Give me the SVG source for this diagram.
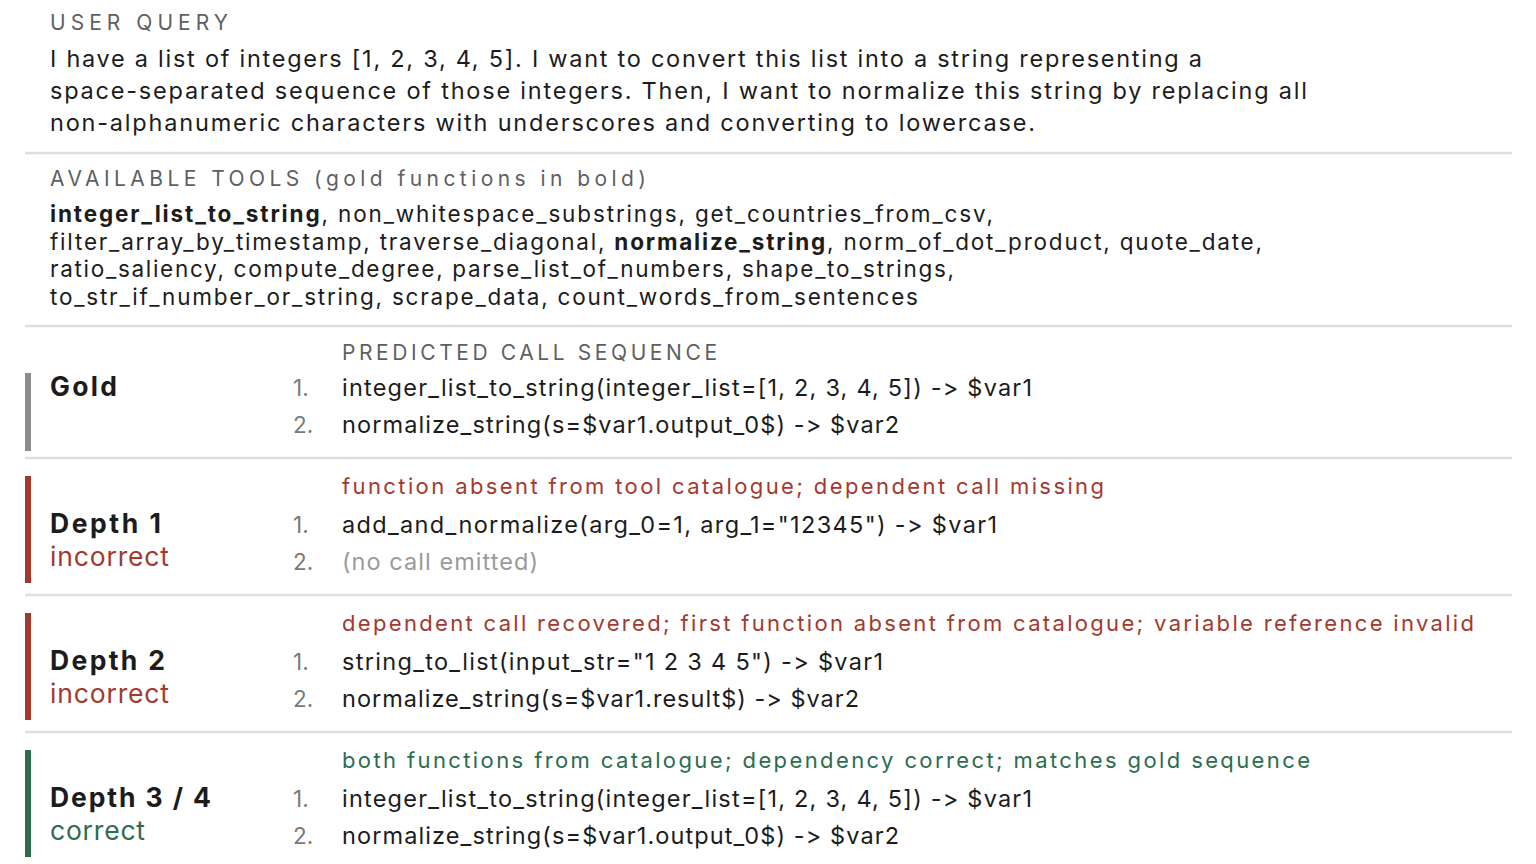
<svg xmlns="http://www.w3.org/2000/svg" width="1536" height="864" viewBox="0 0 1536 864">
<style>
text{font-family:Inter,"Liberation Sans",Arial,sans-serif;fill:#1c1c1c;font-variant-ligatures:none;font-feature-settings:"calt" 0,"liga" 0}
.lbl{font-size:21px;fill:#5f5f5f}
.q{font-size:23.5px}
.t{font-size:22.5px}
.b{font-weight:700}
.c{font-size:23.5px}
.n{font-size:22.5px;fill:#7a7a7a}
.name{font-size:26.5px;font-weight:700}
.st{font-size:26.5px}
.red{fill:#a3392e}
.grn{fill:#2d6c4d}
.ann{font-size:22px}
.muted{fill:#9a9a9a}
.div{stroke:#dedede;stroke-width:2.5}
</style>
<rect width="1536" height="864" fill="#ffffff"/>
<g id="query">
<text class="lbl" x="50" y="30" textLength="178" lengthAdjust="spacing">USER QUERY</text>
<text class="q" x="50" y="67" textLength="1152" lengthAdjust="spacing">I have a list of integers [1, 2, 3, 4, 5]. I want to convert this list into a string representing a</text>
<text class="q" x="50" y="99" textLength="1257" lengthAdjust="spacing">space-separated sequence of those integers. Then, I want to normalize this string by replacing all</text>
<text class="q" x="50" y="131" textLength="985" lengthAdjust="spacing">non-alphanumeric characters with underscores and converting to lowercase.</text>
</g>
<g id="dividers">
<line class="div" x1="25" y1="153" x2="1512" y2="153"/>
<line class="div" x1="25" y1="326" x2="1512" y2="326"/>
<line class="div" x1="25" y1="458" x2="1512" y2="458"/>
<line class="div" x1="25" y1="595" x2="1512" y2="595"/>
<line class="div" x1="25" y1="732" x2="1512" y2="732"/>
</g>
<g id="tools">
<text class="lbl" x="50" y="186" textLength="596" lengthAdjust="spacing">AVAILABLE TOOLS (gold functions in bold)</text>
<text class="t" x="50" y="222" textLength="943" lengthAdjust="spacing"><tspan class="b">integer_list_to_string</tspan>, non_whitespace_substrings, get_countries_from_csv,</text>
<text class="t" x="50" y="250" textLength="1212" lengthAdjust="spacing">filter_array_by_timestamp, traverse_diagonal, <tspan class="b">normalize_string</tspan>, norm_of_dot_product, quote_date,</text>
<text class="t" x="50" y="277" textLength="904" lengthAdjust="spacing">ratio_saliency, compute_degree, parse_list_of_numbers, shape_to_strings,</text>
<text class="t" x="50" y="305" textLength="868" lengthAdjust="spacing">to_str_if_number_or_string, scrape_data, count_words_from_sentences</text>
</g>
<g id="gold">
<rect x="25" y="373" width="6" height="78" fill="#8c8c8c"/>
<text class="lbl" x="342" y="360" textLength="375" lengthAdjust="spacing">PREDICTED CALL SEQUENCE</text>
<text class="name" x="50" y="396" textLength="67" lengthAdjust="spacing">Gold</text>
<text class="n" x="293" y="396">1.</text>
<text class="c" x="342" y="396" textLength="690" lengthAdjust="spacing">integer_list_to_string(integer_list=[1, 2, 3, 4, 5]) -&gt; $var1</text>
<text class="n" x="293" y="433">2.</text>
<text class="c" x="342" y="433" textLength="557" lengthAdjust="spacing">normalize_string(s=$var1.output_0$) -&gt; $var2</text>
</g>
<g id="depth1">
<rect x="25" y="476" width="6" height="107" fill="#a3392e"/>
<text class="ann red" x="342" y="494" textLength="762" lengthAdjust="spacing">function absent from tool catalogue; dependent call missing</text>
<text class="name" x="50" y="533" textLength="111" lengthAdjust="spacing">Depth 1</text>
<text class="st red" x="50" y="566" textLength="119" lengthAdjust="spacing">incorrect</text>
<text class="n" x="293" y="533">1.</text>
<text class="c" x="342" y="533" textLength="655" lengthAdjust="spacing">add_and_normalize(arg_0=1, arg_1="12345") -&gt; $var1</text>
<text class="n" x="293" y="570">2.</text>
<text class="c muted" x="342" y="570" textLength="196" lengthAdjust="spacing">(no call emitted)</text>
</g>
<g id="depth2">
<rect x="25" y="613" width="6" height="107" fill="#a3392e"/>
<text class="ann red" x="342" y="631" textLength="1132" lengthAdjust="spacing">dependent call recovered; first function absent from catalogue; variable reference invalid</text>
<text class="name" x="50" y="670" textLength="115" lengthAdjust="spacing">Depth 2</text>
<text class="st red" x="50" y="703" textLength="119" lengthAdjust="spacing">incorrect</text>
<text class="n" x="293" y="670">1.</text>
<text class="c" x="342" y="670" textLength="541" lengthAdjust="spacing">string_to_list(input_str="1 2 3 4 5") -&gt; $var1</text>
<text class="n" x="293" y="707">2.</text>
<text class="c" x="342" y="707" textLength="517" lengthAdjust="spacing">normalize_string(s=$var1.result$) -&gt; $var2</text>
</g>
<g id="depth34">
<rect x="25" y="750" width="6" height="107" fill="#2d6c4d"/>
<text class="ann grn" x="342" y="768" textLength="968" lengthAdjust="spacing">both functions from catalogue; dependency correct; matches gold sequence</text>
<text class="name" x="50" y="807" textLength="161" lengthAdjust="spacing">Depth 3 / 4</text>
<text class="st grn" x="50" y="840" textLength="95" lengthAdjust="spacing">correct</text>
<text class="n" x="293" y="807">1.</text>
<text class="c" x="342" y="807" textLength="690" lengthAdjust="spacing">integer_list_to_string(integer_list=[1, 2, 3, 4, 5]) -&gt; $var1</text>
<text class="n" x="293" y="844">2.</text>
<text class="c" x="342" y="844" textLength="557" lengthAdjust="spacing">normalize_string(s=$var1.output_0$) -&gt; $var2</text>
</g>
</svg>
